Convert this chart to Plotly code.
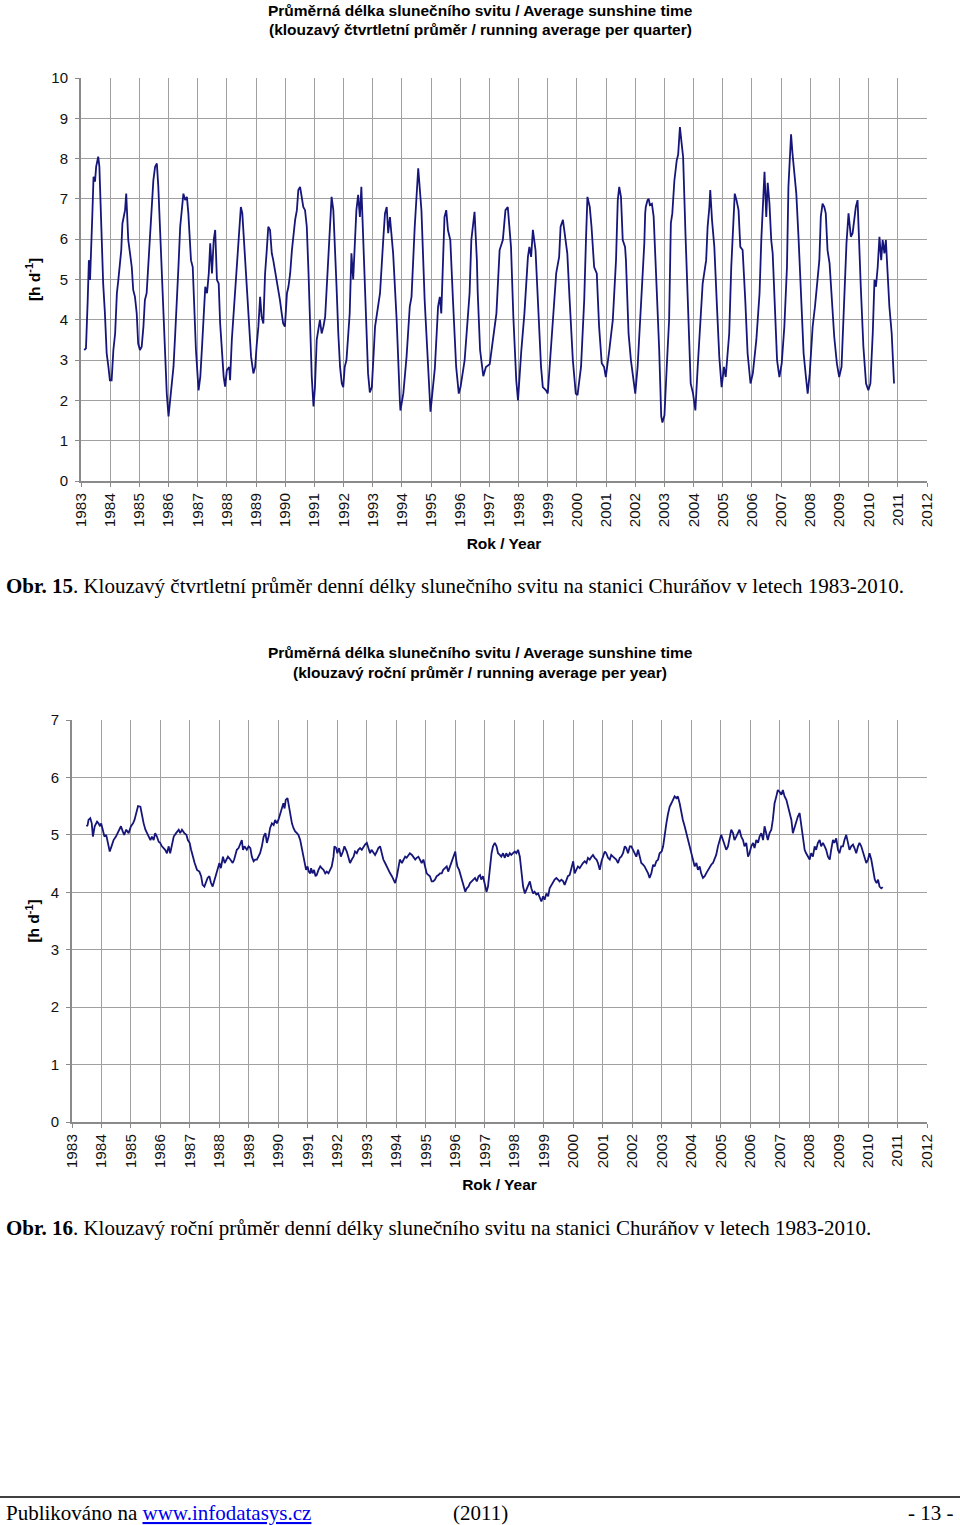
import plotly.graph_objects as go

# ---------------- data ----------------
# Chart 1: running quarterly average (decimal year, hours per day)
q_year = [
    1983.11, 1983.17, 1983.23, 1983.27, 1983.31, 1983.34, 1983.39, 1983.43, 1983.48, 1983.52, 1983.59, 1983.63,
    1983.67, 1983.71, 1983.76, 1983.82, 1983.88, 1983.94, 1983.99, 1984.05,
    1984.11, 1984.17, 1984.23, 1984.28, 1984.34, 1984.38, 1984.42, 1984.46, 1984.51, 1984.55, 1984.59, 1984.62,
    1984.68, 1984.74, 1984.79, 1984.85, 1984.91, 1984.96, 1985.02, 1985.08,
    1985.14, 1985.19, 1985.25, 1985.31, 1985.37, 1985.42, 1985.48, 1985.54, 1985.60, 1985.65, 1985.71, 1985.77,
    1985.82, 1985.88, 1985.94, 1986.00, 1986.06,
    1986.12, 1986.17, 1986.23, 1986.29, 1986.34, 1986.40, 1986.46, 1986.51, 1986.57, 1986.63, 1986.68, 1986.71,
    1986.77, 1986.83, 1986.88, 1986.94, 1987.03, 1987.09,
    1987.15, 1987.20, 1987.26, 1987.32, 1987.38, 1987.43, 1987.49, 1987.55, 1987.60, 1987.66, 1987.72, 1987.77,
    1987.83, 1987.89, 1987.94, 1988.00, 1988.08, 1988.11,
    1988.17, 1988.28, 1988.38, 1988.43, 1988.48, 1988.53, 1988.60, 1988.68, 1988.76, 1988.83, 1988.91, 1988.97,
    1989.02, 1989.08, 1989.14, 1989.19, 1989.25, 1989.31, 1989.36, 1989.42, 1989.48, 1989.54, 1989.59, 1989.65,
    1989.71, 1989.76, 1989.82, 1989.88, 1989.93, 1989.99, 1990.06,
    1990.11, 1990.17, 1990.23, 1990.28, 1990.34, 1990.40, 1990.45, 1990.51, 1990.57, 1990.62, 1990.68, 1990.74,
    1990.80, 1990.85, 1990.91, 1990.97, 1991.02,
    1991.08, 1991.14, 1991.19, 1991.25, 1991.31, 1991.37, 1991.42, 1991.48, 1991.54, 1991.59, 1991.65, 1991.71,
    1991.76, 1991.82, 1991.88, 1991.94, 1991.99, 1992.04,
    1992.10, 1992.21, 1992.27, 1992.33, 1992.39, 1992.44, 1992.50, 1992.56, 1992.61, 1992.67, 1992.73, 1992.78,
    1992.84, 1992.90, 1992.97,
    1993.08, 1993.25, 1993.36, 1993.42, 1993.48, 1993.53, 1993.59, 1993.65, 1993.70, 1993.82, 1993.87, 1993.93,
    1993.95,
    1994.05, 1994.16, 1994.27, 1994.33, 1994.44, 1994.56, 1994.67, 1994.78, 1994.90, 1994.98,
    1995.13, 1995.24, 1995.30, 1995.35, 1995.46, 1995.52, 1995.58, 1995.66, 1995.75, 1995.86, 1995.95, 1996.01,
    1996.15, 1996.26, 1996.32, 1996.38, 1996.49, 1996.57, 1996.60, 1996.68, 1996.79, 1996.88, 1997.01,
    1997.12, 1997.24, 1997.35, 1997.46, 1997.55, 1997.63, 1997.74, 1997.82, 1997.92, 1997.98,
    1998.09, 1998.20, 1998.32, 1998.37, 1998.43, 1998.49, 1998.58, 1998.66, 1998.77, 1998.83, 1998.94, 1999.00,
    1999.10, 1999.22, 1999.29, 1999.39, 1999.44, 1999.52, 1999.58, 1999.67, 1999.75, 1999.86, 1999.96, 2000.02,
    2000.14, 2000.25, 2000.31, 2000.36, 2000.44, 2000.50, 2000.59, 2000.68, 2000.76, 2000.85, 2000.93, 2000.99,
    2001.11, 2001.23, 2001.34, 2001.40, 2001.45, 2001.51, 2001.57, 2001.65, 2001.68, 2001.77, 2001.85, 2001.91,
    2002.00, 2002.08,
    2002.19, 2002.31, 2002.34, 2002.36, 2002.42, 2002.46, 2002.50, 2002.57, 2002.63, 2002.68, 2002.74, 2002.82,
    2002.89, 2002.93, 2003.00,
    2003.08, 2003.16, 2003.22, 2003.27, 2003.34, 2003.42, 2003.47, 2003.53, 2003.59, 2003.64, 2003.72, 2003.81,
    2003.90, 2003.98, 2004.06,
    2004.14, 2004.24, 2004.31, 2004.43, 2004.48, 2004.54, 2004.57, 2004.63, 2004.71, 2004.80, 2004.88, 2004.96,
    2005.04, 2005.10,
    2005.22, 2005.29, 2005.36, 2005.41, 2005.47, 2005.54, 2005.60, 2005.68, 2005.77, 2005.85, 2005.95, 2006.03,
    2006.15, 2006.26, 2006.32, 2006.37, 2006.43, 2006.49, 2006.54, 2006.60, 2006.66, 2006.71, 2006.79, 2006.86,
    2006.94, 2007.02,
    2007.11, 2007.20, 2007.25, 2007.29, 2007.34, 2007.39, 2007.45, 2007.52, 2007.60, 2007.68, 2007.77, 2007.85,
    2007.91, 2007.98,
    2008.08, 2008.16, 2008.23, 2008.31, 2008.36, 2008.42, 2008.48, 2008.53, 2008.59, 2008.66, 2008.74, 2008.82,
    2008.91, 2008.99, 2009.07,
    2009.16, 2009.24, 2009.31, 2009.39, 2009.45, 2009.51, 2009.56, 2009.62, 2009.65, 2009.73, 2009.82, 2009.91,
    2009.99, 2010.06,
    2010.14, 2010.20, 2010.25, 2010.31, 2010.37, 2010.43, 2010.48, 2010.54, 2010.59, 2010.63, 2010.71, 2010.79,
    2010.87,
]
q_val = [
    3.25, 3.29, 4.49, 5.48, 4.99, 5.48, 6.64, 7.55, 7.43, 7.80, 8.05, 7.80,
    6.72, 5.98, 4.90, 4.16, 3.17, 2.83, 2.50, 2.50,
    3.25, 3.66, 4.66, 4.99, 5.48, 5.73, 6.39, 6.56, 6.72, 7.13, 6.64, 5.98,
    5.65, 5.31, 4.74, 4.57, 4.16, 3.41, 3.25, 3.33,
    3.83, 4.49, 4.66, 5.48, 5.98, 6.72, 7.46, 7.80, 7.88, 7.30, 6.15, 5.15,
    4.16, 2.83, 2.17, 1.60, 2.00,
    2.34, 2.83, 3.66, 4.82, 5.31, 6.31, 6.80, 7.13, 6.97, 7.05, 6.64, 6.31,
    5.48, 5.31, 4.49, 3.25, 2.25, 2.59,
    3.35, 4.08, 4.82, 4.66, 5.15, 5.90, 5.15, 5.98, 6.23, 4.99, 4.90, 3.91,
    3.17, 2.59, 2.34, 2.75, 2.83, 2.50,
    3.50, 4.66, 5.81, 6.48, 6.80, 6.64, 5.73, 4.82, 3.83, 3.08, 2.67, 2.83,
    3.35, 3.83, 4.57, 4.08, 3.91, 5.15, 5.65, 6.31, 6.23, 5.65, 5.48, 5.23,
    4.99, 4.82, 4.49, 4.16, 3.91, 3.83, 4.66,
    4.82, 5.15, 5.73, 6.15, 6.48, 6.72, 7.22, 7.30, 6.97, 6.80, 6.72, 6.31,
    5.15, 3.83, 2.59, 1.85, 2.33,
    3.50, 3.83, 4.00, 3.66, 3.83, 4.08, 4.82, 5.65, 6.31, 7.05, 6.72, 5.81,
    4.82, 3.66, 2.83, 2.42, 2.33, 2.83,
    3.00, 4.15, 5.65, 5.00, 5.90, 6.72, 7.10, 6.55, 7.30, 6.15, 4.80, 3.66,
    2.67, 2.20, 2.33,
    3.83, 4.66, 5.98, 6.64, 6.80, 6.15, 6.55, 5.98, 5.65, 4.00, 2.85, 2.00,
    1.75,
    2.18, 3.08, 4.33, 4.57, 6.31, 7.76, 6.72, 4.49, 2.67, 1.72,
    2.80, 4.33, 4.57, 4.16, 6.55, 6.72, 6.22, 5.98, 4.49, 2.83, 2.17, 2.33,
    2.99, 4.15, 4.66, 5.98, 6.68, 5.48, 4.66, 3.25, 2.60, 2.83, 2.90,
    3.50, 4.16, 5.73, 5.98, 6.72, 6.80, 5.81, 4.08, 2.50, 2.00,
    3.20, 4.16, 5.56, 5.81, 5.56, 6.23, 5.73, 4.49, 2.83, 2.33, 2.25, 2.17,
    3.20, 4.33, 5.16, 5.56, 6.31, 6.48, 6.15, 5.65, 4.49, 3.00, 2.17, 2.13,
    2.83, 4.49, 5.98, 7.05, 6.80, 6.31, 5.31, 5.15, 3.83, 2.92, 2.83, 2.58,
    3.25, 4.00, 5.48, 6.97, 7.30, 7.05, 5.98, 5.81, 5.48, 3.66, 3.00, 2.67,
    2.17, 2.83,
    4.16, 5.90, 6.64, 6.80, 6.97, 7.00, 6.85, 6.88, 6.56, 5.48, 4.66, 3.25,
    1.60, 1.45, 1.63,
    2.85, 4.00, 6.40, 6.64, 7.45, 7.95, 8.10, 8.78, 8.37, 8.04, 6.15, 4.16,
    2.42, 2.17, 1.75,
    2.83, 4.08, 4.90, 5.48, 6.31, 6.80, 7.22, 6.48, 5.81, 4.33, 3.08, 2.33,
    2.83, 2.58,
    3.66, 5.31, 6.48, 7.13, 6.97, 6.72, 5.81, 5.73, 4.49, 3.17, 2.42, 2.67,
    3.50, 4.66, 5.98, 6.72, 7.67, 6.55, 7.40, 6.88, 5.98, 5.65, 4.08, 3.00,
    2.58, 2.92,
    3.83, 5.31, 7.30, 7.80, 8.60, 8.12, 7.69, 7.13, 5.98, 4.66, 3.17, 2.58,
    2.17, 2.67,
    3.83, 4.33, 4.82, 5.48, 6.56, 6.88, 6.80, 6.64, 5.73, 5.40, 4.49, 3.58,
    2.92, 2.58, 2.83,
    4.49, 5.90, 6.64, 6.06, 6.15, 6.56, 6.80, 6.97, 6.31, 4.82, 3.33, 2.42,
    2.25, 2.42,
    3.66, 4.99, 4.82, 5.31, 6.06, 5.48, 5.98, 5.65, 5.98, 5.31, 4.33, 3.66,
    2.42,
]

# Chart 2: running yearly average (decimal year, hours per day)
a_year = [
    1983.49, 1983.53, 1983.56, 1983.62, 1983.67, 1983.71, 1983.77, 1983.85, 1983.90, 1983.95, 1983.99, 1984.05,
    1984.10, 1984.16, 1984.21, 1984.28, 1984.34, 1984.41, 1984.49, 1984.58, 1984.66, 1984.72, 1984.77, 1984.84,
    1984.92, 1985.00, 1985.07, 1985.12, 1985.18, 1985.24, 1985.32, 1985.37, 1985.43, 1985.49, 1985.54, 1985.60,
    1985.66, 1985.71, 1985.77, 1985.82, 1985.88, 1985.94, 1985.99, 1986.05, 1986.11, 1986.16, 1986.22, 1986.28,
    1986.33, 1986.39, 1986.45, 1986.53, 1986.62, 1986.67, 1986.73, 1986.81, 1986.88, 1986.93, 1986.99, 1987.04,
    1987.09, 1987.16, 1987.24, 1987.32, 1987.38, 1987.43, 1987.49, 1987.54, 1987.60, 1987.66, 1987.71, 1987.77,
    1987.82, 1987.89, 1987.95, 1988.00, 1988.05, 1988.12, 1988.18, 1988.23, 1988.29, 1988.37, 1988.45, 1988.50,
    1988.59, 1988.65, 1988.71, 1988.76, 1988.80, 1988.85, 1988.93, 1988.99, 1989.05, 1989.10, 1989.16, 1989.21,
    1989.27, 1989.33, 1989.38, 1989.44, 1989.50, 1989.56, 1989.61, 1989.67, 1989.72, 1989.78, 1989.84, 1989.89,
    1989.95, 1990.00, 1990.06, 1990.12, 1990.17, 1990.21, 1990.25, 1990.31, 1990.36, 1990.40, 1990.46, 1990.51,
    1990.57, 1990.63, 1990.68, 1990.74, 1990.78, 1990.81, 1990.85, 1990.89, 1990.94, 1990.99, 1991.03, 1991.08,
    1991.11, 1991.16, 1991.21, 1991.26, 1991.30, 1991.36, 1991.42, 1991.47, 1991.53, 1991.59, 1991.64, 1991.70,
    1991.76, 1991.81, 1991.87, 1991.90, 1991.96, 1992.00, 1992.06, 1992.12, 1992.19, 1992.24, 1992.32, 1992.38,
    1992.43, 1992.49, 1992.55, 1992.60, 1992.66, 1992.71, 1992.77, 1992.83, 1992.89, 1992.94, 1993.00, 1993.05,
    1993.11, 1993.16, 1993.23, 1993.28, 1993.34, 1993.39, 1993.45, 1993.51, 1993.56, 1993.62, 1993.67, 1993.73,
    1993.79, 1993.85, 1993.90, 1993.96, 1994.02, 1994.07, 1994.12, 1994.19, 1994.24, 1994.30, 1994.35, 1994.41,
    1994.46, 1994.53, 1994.58, 1994.64, 1994.69, 1994.75, 1994.80, 1994.86, 1994.92, 1994.98, 1995.03, 1995.09,
    1995.14, 1995.20, 1995.25, 1995.31, 1995.37, 1995.43, 1995.48, 1995.54, 1995.59, 1995.65, 1995.71, 1995.76,
    1995.82, 1995.88, 1995.94, 1996.00, 1996.03, 1996.07, 1996.13, 1996.19, 1996.24, 1996.30, 1996.34, 1996.39,
    1996.45, 1996.50, 1996.56, 1996.62, 1996.67, 1996.73, 1996.79, 1996.84, 1996.88, 1996.94, 1997.00, 1997.06,
    1997.11, 1997.17, 1997.23, 1997.28, 1997.34, 1997.40, 1997.45, 1997.51, 1997.56, 1997.62, 1997.68, 1997.73,
    1997.79, 1997.85, 1997.90, 1997.96, 1998.02, 1998.07, 1998.13, 1998.19, 1998.24, 1998.30, 1998.36, 1998.41,
    1998.47, 1998.53, 1998.58, 1998.64, 1998.69, 1998.75, 1998.81, 1998.86, 1998.92, 1998.98, 1999.03, 1999.09,
    1999.15, 1999.20, 1999.26, 1999.32, 1999.37, 1999.43, 1999.49, 1999.54, 1999.60, 1999.66, 1999.71, 1999.77,
    1999.82, 1999.88, 1999.94, 2000.00, 2000.05, 2000.11, 2000.16, 2000.22, 2000.28, 2000.33, 2000.39, 2000.45,
    2000.50, 2000.56, 2000.62, 2000.67, 2000.73, 2000.79, 2000.84, 2000.90, 2000.96, 2001.01, 2001.07, 2001.12,
    2001.18, 2001.24, 2001.29, 2001.35, 2001.41, 2001.46, 2001.52, 2001.58, 2001.63, 2001.69, 2001.75, 2001.80,
    2001.86, 2001.92, 2001.97, 2002.03, 2002.08, 2002.14, 2002.20, 2002.25, 2002.31, 2002.37, 2002.42, 2002.48,
    2002.54, 2002.59, 2002.65, 2002.71, 2002.76, 2002.82, 2002.88, 2002.93, 2003.00, 2003.05, 2003.10, 2003.16,
    2003.21, 2003.27, 2003.33, 2003.38, 2003.44, 2003.50, 2003.55, 2003.61, 2003.67, 2003.72, 2003.78, 2003.84,
    2003.89, 2003.95, 2004.00, 2004.06, 2004.12, 2004.18, 2004.23, 2004.29, 2004.34, 2004.40, 2004.46, 2004.51,
    2004.57, 2004.63, 2004.68, 2004.74, 2004.80, 2004.85, 2004.91, 2004.97, 2005.02, 2005.08, 2005.14, 2005.19,
    2005.25, 2005.31, 2005.36, 2005.42, 2005.47, 2005.53, 2005.59, 2005.64, 2005.70, 2005.76, 2005.81, 2005.87,
    2005.93, 2005.98, 2006.04, 2006.10, 2006.15, 2006.21, 2006.27, 2006.32, 2006.38, 2006.44, 2006.49, 2006.55,
    2006.60, 2006.66, 2006.72, 2006.77, 2006.83, 2006.89, 2006.94, 2007.00, 2007.06, 2007.11, 2007.17, 2007.23,
    2007.28, 2007.34, 2007.40, 2007.45, 2007.51, 2007.56, 2007.62, 2007.68, 2007.73, 2007.79, 2007.85, 2007.90,
    2007.96, 2008.02, 2008.07, 2008.13, 2008.19, 2008.24, 2008.30, 2008.36, 2008.41, 2008.47, 2008.53, 2008.58,
    2008.64, 2008.70, 2008.75, 2008.81, 2008.86, 2008.92, 2008.98, 2009.03, 2009.09, 2009.15, 2009.20, 2009.26,
    2009.32, 2009.37, 2009.43, 2009.49, 2009.54, 2009.60, 2009.66, 2009.71, 2009.77, 2009.83, 2009.88, 2009.94,
    2010.00, 2010.05, 2010.11, 2010.19, 2010.23, 2010.29, 2010.34, 2010.39, 2010.45, 2010.50,
]
a_val = [
    5.15, 5.17, 5.26, 5.29, 5.20, 4.97, 5.15, 5.23, 5.20, 5.15, 5.20, 5.09,
    4.97, 5.00, 4.86, 4.71, 4.80, 4.91, 4.97, 5.06, 5.15, 5.06, 5.00, 5.09,
    5.03, 5.15, 5.20, 5.26, 5.38, 5.50, 5.49, 5.35, 5.20, 5.09, 5.03, 4.97,
    4.91, 4.97, 4.91, 5.03, 4.97, 4.88, 4.86, 4.80, 4.77, 4.74, 4.68, 4.80,
    4.68, 4.80, 4.97, 5.03, 5.09, 5.03, 5.09, 5.03, 5.00, 4.91, 4.86, 4.74,
    4.62, 4.51, 4.39, 4.36, 4.28, 4.13, 4.10, 4.16, 4.25, 4.28, 4.17, 4.10,
    4.19, 4.30, 4.39, 4.51, 4.42, 4.62, 4.51, 4.57, 4.62, 4.57, 4.51, 4.57,
    4.74, 4.77, 4.86, 4.91, 4.74, 4.80, 4.74, 4.80, 4.77, 4.62, 4.54, 4.57,
    4.57, 4.62, 4.68, 4.80, 4.97, 5.03, 4.86, 4.97, 5.12, 5.20, 5.17, 5.26,
    5.20, 5.26, 5.38, 5.49, 5.55, 5.46, 5.61, 5.64, 5.49, 5.38, 5.20, 5.12,
    5.06, 5.03, 5.00, 4.91, 4.80, 4.74, 4.62, 4.51, 4.39, 4.45, 4.36, 4.33,
    4.42, 4.33, 4.39, 4.28, 4.30, 4.39, 4.45, 4.42, 4.39, 4.33, 4.36, 4.33,
    4.39, 4.45, 4.62, 4.80, 4.77, 4.68, 4.77, 4.62, 4.71, 4.80, 4.71, 4.62,
    4.51, 4.57, 4.62, 4.71, 4.68, 4.74, 4.77, 4.74, 4.80, 4.83, 4.86, 4.77,
    4.68, 4.74, 4.68, 4.65, 4.71, 4.77, 4.80, 4.68, 4.57, 4.51, 4.45, 4.39,
    4.33, 4.28, 4.22, 4.16, 4.28, 4.45, 4.57, 4.51, 4.57, 4.62, 4.60, 4.65,
    4.68, 4.65, 4.62, 4.57, 4.60, 4.62, 4.57, 4.51, 4.57, 4.45, 4.33, 4.30,
    4.28, 4.19, 4.19, 4.22, 4.28, 4.30, 4.33, 4.33, 4.39, 4.42, 4.45, 4.36,
    4.45, 4.57, 4.62, 4.71, 4.57, 4.45, 4.39, 4.28, 4.16, 4.04, 4.01, 4.07,
    4.10, 4.16, 4.19, 4.22, 4.25, 4.19, 4.28, 4.30, 4.22, 4.28, 4.16, 4.01,
    4.10, 4.45, 4.68, 4.80, 4.86, 4.80, 4.68, 4.65, 4.62, 4.68, 4.60, 4.68,
    4.62, 4.68, 4.65, 4.68, 4.71, 4.68, 4.74, 4.62, 4.33, 4.10, 3.98, 4.04,
    4.10, 4.19, 4.07, 3.98, 4.01, 3.96, 3.98, 3.90, 3.84, 3.93, 3.87, 3.98,
    3.93, 4.07, 4.13, 4.19, 4.22, 4.25, 4.22, 4.19, 4.22, 4.19, 4.13, 4.22,
    4.28, 4.30, 4.45, 4.54, 4.33, 4.39, 4.45, 4.42, 4.48, 4.51, 4.54, 4.51,
    4.60, 4.57, 4.62, 4.65, 4.60, 4.57, 4.51, 4.39, 4.54, 4.62, 4.71, 4.68,
    4.60, 4.57, 4.65, 4.62, 4.60, 4.57, 4.51, 4.60, 4.62, 4.68, 4.80, 4.77,
    4.68, 4.80, 4.80, 4.74, 4.68, 4.62, 4.74, 4.62, 4.51, 4.48, 4.45, 4.39,
    4.33, 4.25, 4.33, 4.48, 4.45, 4.54, 4.57, 4.68, 4.71, 4.80, 5.03, 5.20,
    5.35, 5.49, 5.55, 5.61, 5.67, 5.64, 5.67, 5.55, 5.38, 5.26, 5.15, 5.03,
    4.91, 4.80, 4.68, 4.57, 4.45, 4.51, 4.39, 4.45, 4.33, 4.25, 4.28, 4.33,
    4.39, 4.45, 4.48, 4.51, 4.60, 4.65, 4.80, 4.91, 5.00, 4.91, 4.80, 4.74,
    4.80, 4.94, 5.09, 5.03, 4.91, 4.97, 5.03, 5.09, 4.97, 4.91, 4.80, 4.86,
    4.62, 4.68, 4.80, 4.86, 4.77, 4.91, 4.86, 4.97, 5.03, 4.91, 5.15, 5.03,
    4.91, 5.03, 5.09, 5.26, 5.55, 5.67, 5.78, 5.75, 5.70, 5.78, 5.67, 5.61,
    5.49, 5.38, 5.26, 5.03, 5.15, 5.20, 5.32, 5.38, 5.20, 4.91, 4.74, 4.68,
    4.62, 4.57, 4.68, 4.62, 4.80, 4.74, 4.86, 4.91, 4.80, 4.86, 4.80, 4.74,
    4.62, 4.57, 4.74, 4.91, 4.86, 4.94, 4.74, 4.68, 4.80, 4.80, 4.91, 5.00,
    4.86, 4.74, 4.80, 4.83, 4.77, 4.68, 4.80, 4.86, 4.80, 4.68, 4.60, 4.51,
    4.57, 4.68, 4.57, 4.33, 4.22, 4.16, 4.22, 4.10, 4.07, 4.09,
]

year_ticks = list(range(1983, 2013))
year_labels = [str(y) for y in year_ticks]
y1_ticks = list(range(0, 11))
y2_ticks = list(range(0, 8))

title1 = ["Průměrná délka slunečního svitu / Average sunshine time",
          "(klouzavý čtvrtletní průměr / running average per quarter)"]
title2 = ["Průměrná délka slunečního svitu / Average sunshine time",
          "(klouzavý roční průměr / running average per year)"]
x_title = "Rok / Year"
y_title = "[h d<sup>-1</sup>]"
caption1 = ("<b>Obr. 15</b>. Klouzavý čtvrtletní průměr denní délky slunečního svitu "
            "na stanici Churáňov v letech 1983-2010.")
caption2 = ("<b>Obr. 16</b>. Klouzavý roční průměr denní délky slunečního svitu "
            "na stanici Churáňov v letech 1983-2010.")

# ---------------- layout helpers ----------------
W, H = 960, 1525
SANS = "Liberation Sans, Arial, sans-serif"
SERIF = "Liberation Serif, Times New Roman, serif"
LINE = "#16167a"
GRID = "#a0a0a0"
AXIS = "#8a8a8a"


def px_x(x):
    return x / W


def px_y(y):
    return 1 - y / H


fig = go.Figure()
fig.add_trace(go.Scatter(x=q_year, y=q_val, mode="lines", xaxis="x", yaxis="y",
                         line=dict(color=LINE, width=1.8), showlegend=False, hoverinfo="skip"))
fig.add_trace(go.Scatter(x=a_year, y=a_val, mode="lines", xaxis="x2", yaxis="y2",
                         line=dict(color=LINE, width=1.8), showlegend=False, hoverinfo="skip"))

title_font = dict(family=SANS, size=15.5, color="#000")
xcommon = dict(range=[1983, 2012], tickmode="array", tickvals=year_ticks, ticktext=year_labels,
               tickangle=-90, showgrid=True, gridcolor=GRID, gridwidth=1,
               showline=True, linecolor=AXIS, linewidth=2, ticks="outside", ticklen=4,
               tickcolor=AXIS, tickfont=dict(family=SANS, size=15.3, color="#111"),
               zeroline=False, fixedrange=True,
               title=dict(text="<b>%s</b>" % x_title, font=title_font, standoff=12))
ycommon = dict(showgrid=True, gridcolor=GRID, gridwidth=1, showline=True, linecolor=AXIS,
               linewidth=2, ticks="outside", ticklen=4, tickcolor=AXIS, ticklabelstandoff=4,
               tickfont=dict(family=SANS, size=15, color="#111"), zeroline=False, fixedrange=True,
               title=dict(text="<b>%s</b>" % y_title, font=title_font, standoff=7))

fig.update_layout(
    autosize=True, margin=dict(l=0, r=0, t=0, b=0, autoexpand=False),
    paper_bgcolor="white", plot_bgcolor="white",
    xaxis=dict(domain=[px_x(81), px_x(927)], anchor="y", **xcommon),
    yaxis=dict(domain=[px_y(481), px_y(78)], anchor="x", range=[0, 10],
               tickvals=y1_ticks, **ycommon),
    xaxis2=dict(domain=[px_x(72), px_x(927)], anchor="y2", **xcommon),
    yaxis2=dict(domain=[px_y(1122), px_y(720)], anchor="x2", range=[0, 7],
                tickvals=y2_ticks, **ycommon),
)

ann = []


def text(x, y, s, size=15.5, family=SANS, bold=False, xanchor="center", angle=0, color="#000"):
    ann.append(dict(x=px_x(x), y=px_y(y), xref="paper", yref="paper", showarrow=False,
                    text=("<b>%s</b>" % s) if bold else s, xanchor=xanchor, yanchor="middle",
                    textangle=angle, font=dict(family=family, size=size, color=color)))


text(480, 10, title1[0], bold=True)
text(480, 30, title1[1], bold=True)
text(4, 586, caption1, size=21, family=SERIF, xanchor="left")

text(480, 652, title2[0], bold=True)
text(480, 672, title2[1], bold=True)
text(4, 1228, caption2, size=21, family=SERIF, xanchor="left")

text(4, 1513, "Publikováno na <span style='color:#0000ee;text-decoration:underline'>www.infodatasys.cz</span>",
     size=21, family=SERIF, xanchor="left")
text(480, 1513, "(2011)", size=21, family=SERIF)
text(956, 1513, "- 13 -", size=21, family=SERIF, xanchor="right")

fig.update_layout(annotations=ann)
fig.add_shape(type="line", xref="paper", yref="paper", x0=0, x1=1,
              y0=px_y(1497), y1=px_y(1497), line=dict(color="#000", width=1.5))

# the page div is pinned to the window's top-left corner at exactly 960x1525
fig.write_html("out.html", config={"displayModeBar": False, "responsive": True},
               default_width="960px;position:absolute;left:0;top:0",
               default_height="1525px")
